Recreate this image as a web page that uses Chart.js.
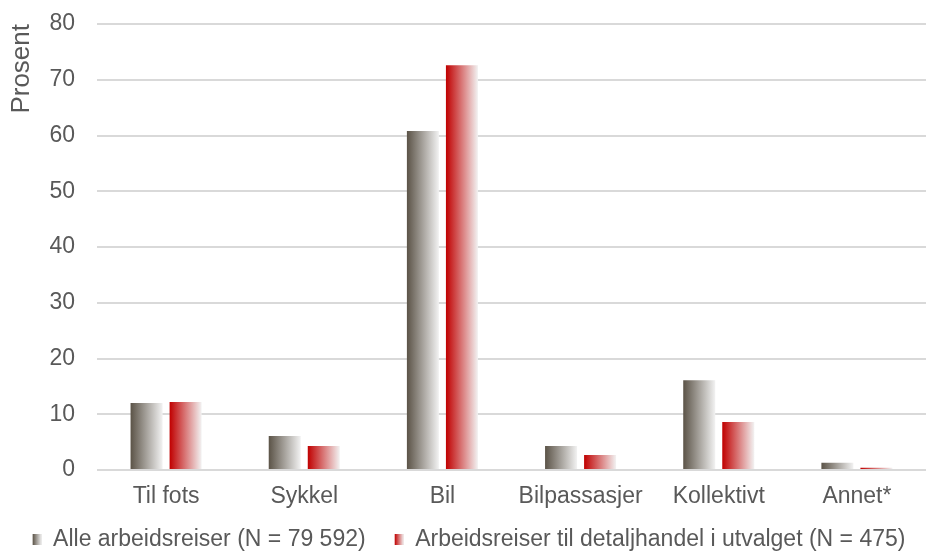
<!DOCTYPE html>
<html>
<head>
<meta charset="utf-8">
<script src="https://cdn.jsdelivr.net/npm/chart.js@4/dist/chart.umd.min.js"></script>
<style>
    html, body { margin: 0; padding: 0; background: #fff; }
    #wrap { width: 931px; height: 557px; position: relative; }
</style>
</head>
<body>
<div id="wrap"><canvas id="chart"></canvas></div>
<script>
/* ==================== DATA ==================== */
const categories = ['Til fots', 'Sykkel', 'Bil', 'Bilpassasjer', 'Kollektivt', 'Annet*'];
const alleReiser = [12.0, 6.1, 60.8, 4.3, 16.1, 1.3];
const detaljhandel = [12.2, 4.3, 72.6, 2.7, 8.6, 0.4];
const seriesNames = ['Alle arbeidsreiser (N = 79 592)', 'Arbeidsreiser til detaljhandel i utvalget (N = 475)'];
const yTicks = { min: 0, max: 80, step: 10 };

/* ==================== STYLE ==================== */
const TEXT = '#595959';
const GRID = '#d9d9d9';
const FONT = '"Liberation Sans", Arial, sans-serif';
const DARK = ['#5b5347', '#c00000'];
const LIGHT = '#f2f2f2';
const CAT_PCT = 0.565;
const BAR_PCT = 0.82;
const SW_GAP = 12; // blank space left of each legend swatch

// horizontal gradient per bar, computed from the category scale
function barFill(ctx) {
    const dark = DARK[ctx.datasetIndex];
    const chart = ctx.chart;
    if (!chart.chartArea || ctx.type !== 'data') return dark;
    const x = chart.scales.x;
    const catW = x.width / categories.length;
    const grp = catW * CAT_PCT;
    const slot = grp / 2;
    const barW = slot * BAR_PCT;
    const center = x.getPixelForValue(ctx.dataIndex);
    const left = center - grp / 2 + ctx.datasetIndex * slot + (slot - barW) / 2;
    const g = chart.ctx.createLinearGradient(left, 0, left + barW, 0);
    g.addColorStop(0, dark);
    g.addColorStop(1, LIGHT);
    return g;
}

// small gradient swatch for the legend (transparent space on its left)
function swatch(dark) {
    const c = document.createElement('canvas');
    c.width = 9 + SW_GAP; c.height = 11;
    const cx = c.getContext('2d');
    const g = cx.createLinearGradient(SW_GAP, 0, SW_GAP + 9, 0);
    g.addColorStop(0, dark);
    g.addColorStop(1, LIGHT);
    cx.fillStyle = g;
    cx.fillRect(SW_GAP, 0, 9, 11);
    return c;
}
const swatches = DARK.map(swatch);

new Chart(document.getElementById('chart'), {
    type: 'bar',
    data: {
        labels: categories,
        datasets: [
            { label: seriesNames[0], data: alleReiser, backgroundColor: barFill, borderWidth: 0 },
            { label: seriesNames[1], data: detaljhandel, backgroundColor: barFill, borderWidth: 0 },
        ],
    },
    options: {
        responsive: true,
        maintainAspectRatio: false,
        animation: false,
        events: [],
        categoryPercentage: CAT_PCT,
        barPercentage: BAR_PCT,
        layout: { padding: { top: 0, right: 5, left: 0, bottom: -4 } },
        plugins: {
            tooltip: { enabled: false },
            legend: {
                position: 'bottom',
                labels: {
                    color: TEXT,
                    font: { family: FONT, size: 23 },
                    usePointStyle: true,
                    pointStyleWidth: 9 + SW_GAP,
                    padding: 17,
                    generateLabels: () => seriesNames.map((t, i) => ({
                        text: t, fillStyle: DARK[i], strokeStyle: DARK[i], lineWidth: 0, fontColor: TEXT,
                        pointStyle: swatches[i], datasetIndex: i, hidden: false,
                    })),
                },
            },
        },
        scales: {
            x: {
                grid: { display: false, drawTicks: false },
                border: { display: false },
                ticks: { color: TEXT, font: { family: FONT, size: 23 }, padding: 13 },
                afterFit: (s) => { s.height = 41; },
            },
            y: {
                min: yTicks.min,
                max: yTicks.max,
                border: { display: false },
                grid: { color: GRID, lineWidth: 2, drawTicks: false },
                ticks: { stepSize: yTicks.step, color: TEXT, font: { family: FONT, size: 23 }, padding: 22 },
                title: {
                    display: true, text: 'Prosent', align: 'end', color: TEXT,
                    font: { family: FONT, size: 26 }, padding: { top: 6, bottom: 12 },
                },
                afterFit: (s) => { s.width = 97; s.paddingTop = 24; },
            },
        },
    },
});
</script>
</body>
</html>
